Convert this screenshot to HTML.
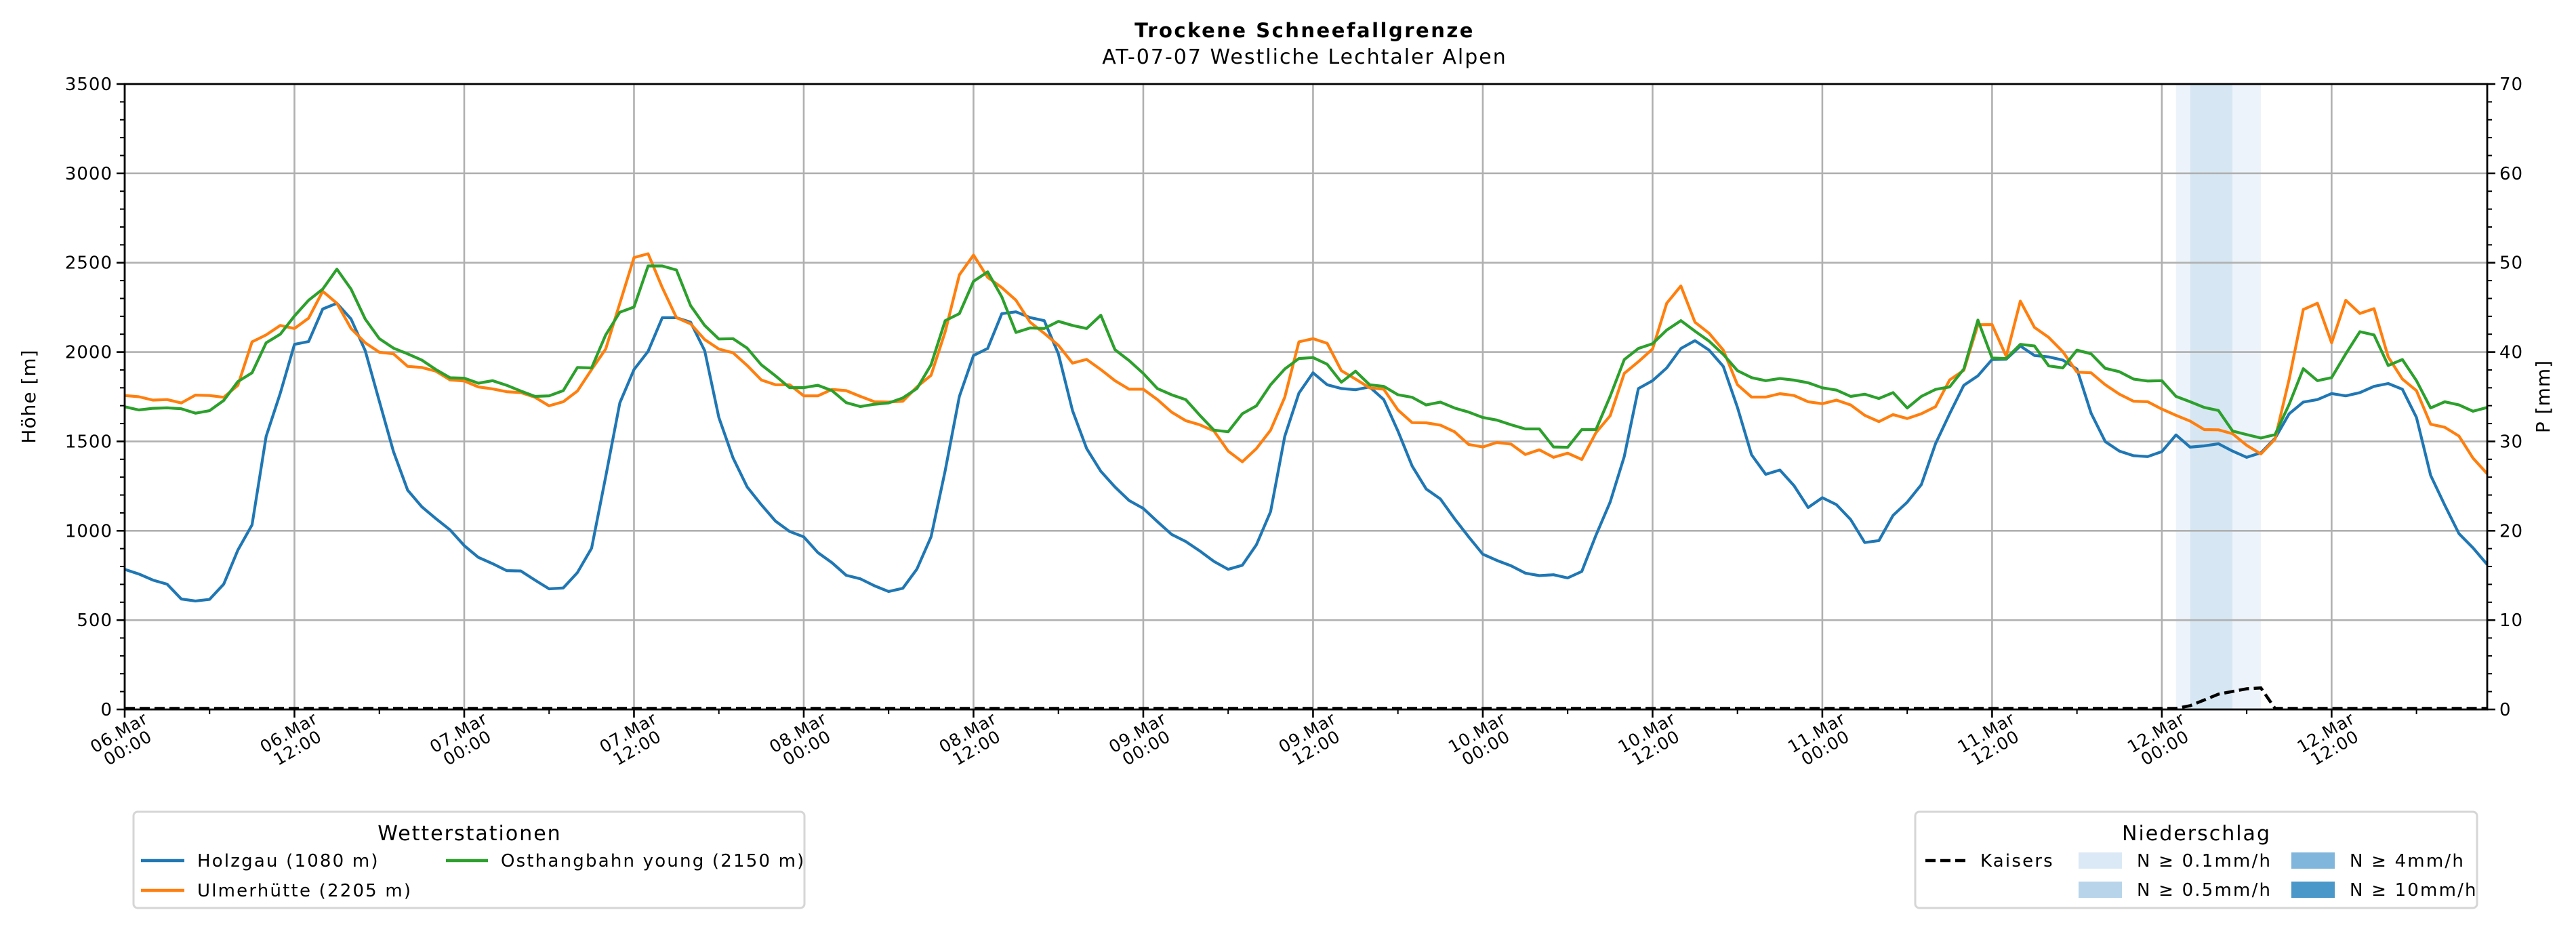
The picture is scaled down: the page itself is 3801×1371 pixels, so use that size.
<!DOCTYPE html>
<html><head><meta charset="utf-8"><style>
html,body{margin:0;padding:0;background:#fff;}
svg{display:block;font-family:"DejaVu Sans","Liberation Sans",sans-serif;}
</style></head><body>
<svg id="chart" width="3801" height="1371" viewBox="0 0 3801 1371" xmlns="http://www.w3.org/2000/svg">
<text x="1925" y="55" text-anchor="middle" font-size="29" letter-spacing="2.5" font-weight="bold">Trockene Schneefallgrenze</text>
<text x="1925" y="94" text-anchor="middle" font-size="30" letter-spacing="2">AT-07-07 Westliche Lechtaler Alpen</text>
<g id="bands"></g>
<g id="grid"></g>
<g id="series"></g>
<g id="axes"></g>
<text transform="translate(52,585) rotate(-90)" text-anchor="middle" font-size="28" letter-spacing="1">Höhe [m]</text>
<text transform="translate(3762,585) rotate(-90)" text-anchor="middle" font-size="28" letter-spacing="1">P [mm]</text>
<g>
<rect x="197" y="1198" width="990" height="142" rx="6" fill="#fff" stroke="#d6d6d6" stroke-width="3"/>
<text x="693" y="1240" text-anchor="middle" font-size="30" letter-spacing="2">Wetterstationen</text>
<line x1="208" y1="1270" x2="272" y2="1270" stroke="#1f77b4" stroke-width="4.5"/>
<text x="291" y="1279" font-size="26" letter-spacing="2.2">Holzgau (1080 m)</text>
<line x1="208" y1="1314" x2="272" y2="1314" stroke="#ff7f0e" stroke-width="4.5"/>
<text x="291" y="1323" font-size="26" letter-spacing="2.2">Ulmerhütte (2205 m)</text>
<line x1="658" y1="1270" x2="720" y2="1270" stroke="#2ca02c" stroke-width="4.5"/>
<text x="739" y="1279" font-size="26" letter-spacing="2.2">Osthangbahn young (2150 m)</text>
</g>
<g>
<rect x="2826" y="1198" width="829" height="142" rx="6" fill="#fff" stroke="#d6d6d6" stroke-width="3"/>
<text x="3241" y="1240" text-anchor="middle" font-size="30" letter-spacing="2">Niederschlag</text>
<line x1="2841" y1="1270" x2="2903" y2="1270" stroke="#000" stroke-width="4.5" stroke-dasharray="15,7"/>
<text x="2922" y="1279" font-size="26" letter-spacing="2.2">Kaisers</text>
<rect x="3067" y="1258" width="64" height="24" fill="#dbe9f6"/>
<text x="3153" y="1279" font-size="26" letter-spacing="2.2">N ≥ 0.1mm/h</text>
<rect x="3067" y="1301" width="64" height="24" fill="#b8d4ea"/>
<text x="3153" y="1322" font-size="26" letter-spacing="2.2">N ≥ 0.5mm/h</text>
<rect x="3381" y="1258" width="64" height="24" fill="#80b6db"/>
<text x="3467" y="1279" font-size="26" letter-spacing="2.2">N ≥ 4mm/h</text>
<rect x="3381" y="1301" width="64" height="24" fill="#4a97c9"/>
<text x="3467" y="1322" font-size="26" letter-spacing="2.2">N ≥ 10mm/h</text>
</g>
</svg>
<script>
const holzgau=[784,758,724,701,618,607,616,701,892,1033,1528,1770,2043,2059,2241,2273,2185,2008,1725,1443,1227,1134,1068,1005,917,851,816,777,775,724,675,680,766,902,1302,1716,1902,2004,2192,2192,2167,2008,
1634,1408,1245,1146,1054,996,966,878,821,751,731,692,660,678,786,966,1337,1752,1981,2020,2215,2225,2193,2176,1990,1672,1460,1333,1245,1169,1125,1051,980,940,887,828,784,807,922,1107,1528,1770,
1884,1817,1796,1789,1805,1734,1558,1363,1234,1178,1068,966,869,834,804,763,749,754,736,772,975,1160,1416,1796,1840,1911,2020,2064,2011,1920,1690,1425,1316,1340,1252,1130,1185,1146,1063,934,945,
1086,1160,1258,1487,1655,1814,1867,1958,1960,2034,1981,1973,1955,1905,1658,1499,1446,1420,1415,1443,1536,1468,1475,1487,1446,1411,1436,1517,1655,1720,1734,1768,1755,1773,1808,1824,1792,1634,1310,1143,984,904,811];
const ulmerhuette=[1757,1750,1731,1734,1715,1759,1757,1747,1814,2057,2096,2149,2132,2190,2340,2273,2132,2052,1999,1990,1920,1914,1893,1844,1838,1805,1794,1778,1773,1747,1699,1722,1782,1902,2017,2273,2529,2550,2361,2193,2158,2070,
2017,1996,1925,1844,1817,1817,1755,1755,1791,1784,1752,1722,1720,1725,1805,1870,2114,2432,2543,2418,2361,2290,2167,2105,2038,1938,1959,1902,1840,1792,1792,1734,1664,1616,1593,1558,1446,1386,1460,1563,1747,2057,
2075,2049,1896,1849,1800,1792,1676,1605,1604,1591,1554,1483,1469,1494,1485,1427,1453,1411,1434,1399,1549,1643,1881,1946,2017,2273,2370,2167,2105,2011,1817,1748,1748,1767,1757,1722,1711,1731,1704,1646,1611,
1650,1628,1655,1694,1844,1898,2153,2154,1976,2285,2138,2082,2002,1888,1884,1817,1764,1725,1722,1681,1646,1614,1566,1565,1543,1478,1430,1513,1849,2238,2273,2052,2290,2216,2243,1973,1849,1784,1596,1579,1530,1406,1319];
const osthangbahn=[1694,1676,1685,1688,1683,1658,1672,1729,1835,1884,2052,2100,2202,2290,2352,2464,2352,2185,2075,2022,1990,1955,1902,1856,1854,1826,1840,1814,1782,1752,1755,1784,1914,1911,2096,2223,2252,2482,2482,2459,2260,2149,
2073,2075,2022,1929,1867,1801,1801,1814,1784,1717,1695,1708,1715,1743,1796,1929,2176,2215,2396,2449,2309,2110,2135,2132,2172,2149,2132,2206,2013,1952,1881,1796,1761,1734,1646,1563,1554,1655,1699,1817,1905,1964,
1969,1932,1831,1893,1817,1808,1761,1747,1704,1720,1687,1664,1634,1619,1593,1570,1570,1469,1467,1566,1566,1752,1958,2020,2047,2123,2176,2117,2061,1987,1896,1857,1840,1852,1843,1828,1800,1787,1752,1764,1740,
1773,1687,1752,1791,1805,1905,2179,1967,1964,2043,2034,1923,1911,2011,1990,1909,1890,1849,1838,1840,1752,1722,1690,1673,1558,1538,1519,1538,1708,1907,1840,1857,1990,2114,2096,1925,1958,1840,1687,1722,1704,1669,1690];
const kaisersHours=[0,145,146,147,148,149,150,151,152,167];
const kaisersMM=[0,0,0.3,0.95,1.6,1.9,2.2,2.3,0,0];
const bandStart=[145,146,149];
const bandEnd=[146,149,151];
const bandClass=[0.1,0.5,0.1];
const xTickLabels=["06.Mar|00:00","06.Mar|12:00","07.Mar|00:00","07.Mar|12:00","08.Mar|00:00","08.Mar|12:00","09.Mar|00:00","09.Mar|12:00","10.Mar|00:00","10.Mar|12:00","11.Mar|00:00","11.Mar|12:00","12.Mar|00:00","12.Mar|12:00"];
const yTicks=[0,500,1000,1500,2000,2500,3000,3500];
const y2Ticks=[0,10,20,30,40,50,60,70];

const L=184,R=3670,T=124,B=1047,XMAX=167,YMAX=3500,PMAX=70;
const NS="http://www.w3.org/2000/svg";
const X=h=>L+(R-L)*h/XMAX;
const Y=v=>B-(B-T)*v/YMAX;
const P=v=>B-(B-T)*v/PMAX;
function mk(tag,attrs,parent){const e=document.createElementNS(NS,tag);for(const k in attrs)e.setAttribute(k,attrs[k]);parent.appendChild(e);return e;}
const gB=document.getElementById('bands'),gG=document.getElementById('grid'),gS=document.getElementById('series'),gA=document.getElementById('axes');
const bandColors={0.1:"#edf3fa",0.5:"#d6e6f3",4:"#a9cbe6",10:"#8ab8dd"};
bandStart.forEach((s,i)=>{
  const r=mk('rect',{x:X(s),y:T,width:X(bandEnd[i])-X(s),height:B-T,fill:bandColors[bandClass[i]]},gB);
  
  
});
yTicks.forEach(v=>{
  const l=mk('line',{x1:L,x2:R,y1:Y(v),y2:Y(v),stroke:"#b0b0b0","stroke-width":2.6},gG);
  
  
});
xTickLabels.forEach((t,i)=>{
  const x=X(i*12);
  const l=mk('line',{x1:x,x2:x,y1:T,y2:B,stroke:"#b0b0b0","stroke-width":2.6},gG);
  
  
});
function line(data,color,name){
  const pts=data.map((v,h)=>X(h).toFixed(1)+","+Y(v).toFixed(1)).join(" ");
  const p=mk('polyline',{points:pts,fill:"none",stroke:color,"stroke-width":4.2,"stroke-linejoin":"round"},gS);
  
  
}
line(holzgau,"#1f77b4","holzgau-line");
line(ulmerhuette,"#ff7f0e","ulmerhuette-line");
line(osthangbahn,"#2ca02c","osthangbahn-line");
const kp=kaisersHours.map((h,i)=>X(h).toFixed(1)+","+(P(kaisersMM[i])-1.5).toFixed(1)).join(" ");
const kl=mk('polyline',{points:kp,fill:"none",stroke:"#000","stroke-width":4.5,"stroke-dasharray":"15,7"},gS);


const fr=mk('rect',{x:L,y:T,width:R-L,height:B-T,fill:"none",stroke:"#000","stroke-width":2.8},gA);


for(let v=0;v<=YMAX;v+=100){
  const major=v%500===0;const len=major?12:7;
  mk('line',{x1:L-len,x2:L,y1:Y(v),y2:Y(v),stroke:"#000","stroke-width":major?2.6:2},gA);
  mk('line',{x1:R,x2:R+len,y1:Y(v),y2:Y(v),stroke:"#000","stroke-width":major?2.6:2},gA);
}
yTicks.forEach(v=>{
  const t=mk('text',{x:L-18,y:Y(v)+9,"text-anchor":"end","font-size":26,"letter-spacing":1},gA);
  
  
  t.textContent=String(v);
});
y2Ticks.forEach(v=>{
  const t=mk('text',{x:R+18,y:P(v)+9,"text-anchor":"start","font-size":26,"letter-spacing":1},gA);
  
  
  t.textContent=String(v);
});
for(let h=0;h<=XMAX;h+=6){
  const major=h%12===0;
  mk('line',{x1:X(h),x2:X(h),y1:B,y2:B+(major?12:7),stroke:"#000","stroke-width":major?2.6:2},gA);
}
xTickLabels.forEach((t,i)=>{
  const x=X(i*12);const parts=t.split("|");
  const tx=mk('text',{transform:`translate(${x+2},${B+52}) rotate(-30)`,"text-anchor":"middle","font-size":25,"letter-spacing":1},gA);
  
  
  const a=mk('tspan',{x:0,dy:-12},tx);a.textContent=parts[0];
  const b=mk('tspan',{x:0,dy:26},tx);b.textContent=parts[1];
});
</script>
</body></html>
